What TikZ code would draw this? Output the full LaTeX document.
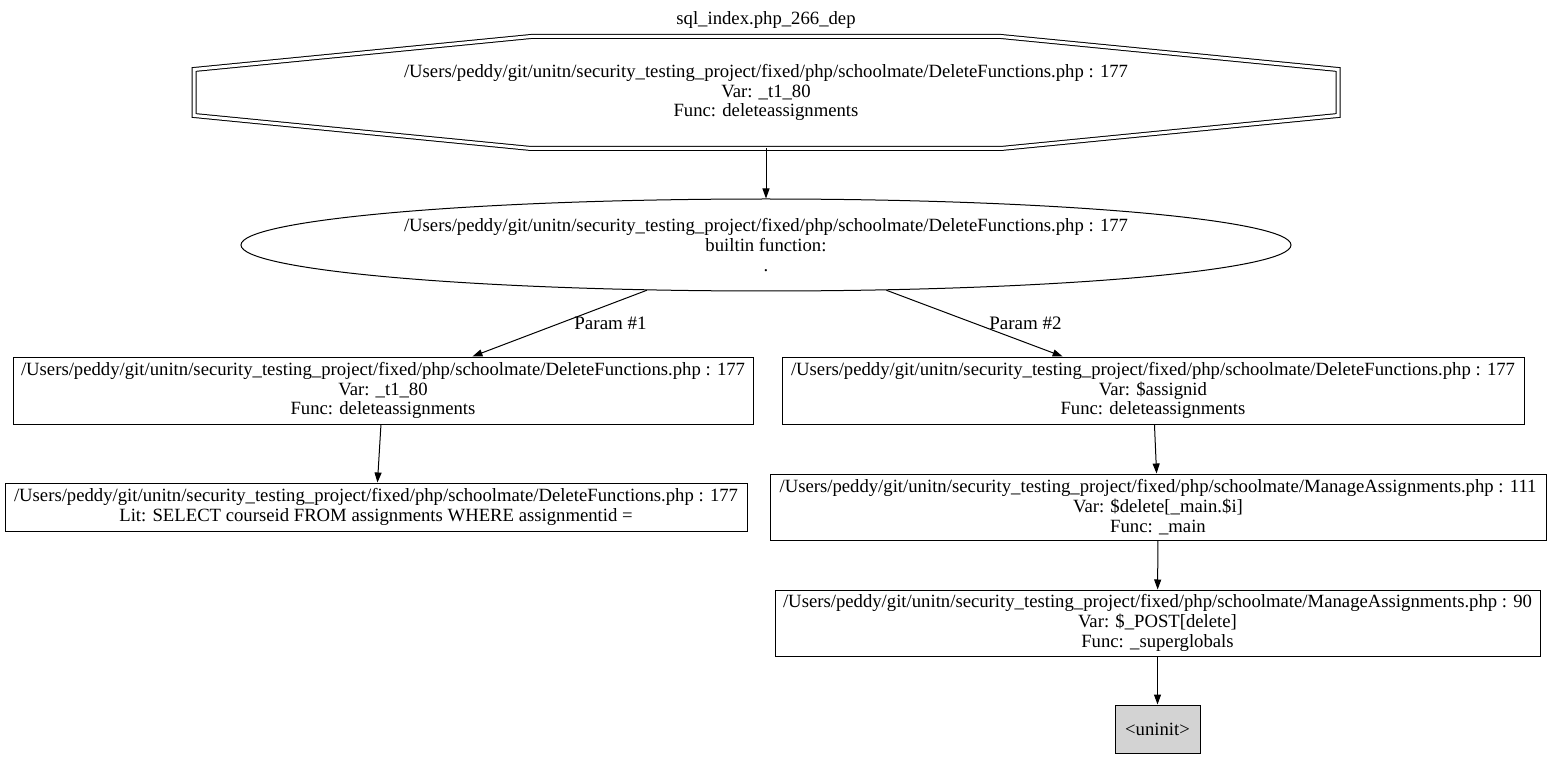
\documentclass[tikz,border=0pt]{standalone}
\usepackage{fontspec}
\setmainfont{Liberation Serif}
\usetikzlibrary{arrows.meta,calc,shapes.geometric}
\definecolor{uninitgray}{RGB}{211,211,211}

\tikzset{
  box/.style={draw, rectangle, inner sep=0pt, minimum height=67pt},
  lbl/.style={right=11pt, font=\fontsize{19}{19.6}\selectfont}
}

\begin{document}
\begin{tikzpicture}[x=1pt,y=-1pt, line width=1pt,
  every node/.style={font=\fontsize{18.7}{19.8}\selectfont, align=center},
  >={Triangle[length=10pt,width=7pt]}]
  \useasboundingbox (0,0) rectangle (1550,759);
  \node (title) at (766,20) {sql\_index.php\_266\_dep};
  \node[minimum width=1143pt, minimum height=111pt, inner sep=0pt] (src) at (766,92.5)
    {/Users/peddy/git/unitn/security\_testing\_project/fixed/php/schoolmate/DeleteFunctions.php : 177\\Var: \_t1\_80\\Func: deleteassignments};
  \draw[double, double distance=3pt]
    ($(src.north)+(-235,0)$) -- ($(src.north)+(235,0)$) -- ($(src.east)+(0,-23)$) -- ($(src.east)+(0,23)$)
    -- ($(src.south)+(235,0)$) -- ($(src.south)+(-235,0)$) -- ($(src.west)+(0,23)$) -- ($(src.west)+(0,-23)$) -- cycle;
  \node[draw, ellipse, minimum width=1050pt, minimum height=92pt, inner sep=0pt] (blt) at (766,245)
    {/Users/peddy/git/unitn/security\_testing\_project/fixed/php/schoolmate/DeleteFunctions.php : 177\\builtin function:\\.};
  \node[box, minimum width=740pt] (p1) at (383,390.5)
    {/Users/peddy/git/unitn/security\_testing\_project/fixed/php/schoolmate/DeleteFunctions.php : 177\\Var: \_t1\_80\\Func: deleteassignments};
  \node[box, minimum width=742pt, minimum height=48pt] (lit) at (376,507)
    {/Users/peddy/git/unitn/security\_testing\_project/fixed/php/schoolmate/DeleteFunctions.php : 177\\Lit: SELECT courseid FROM assignments WHERE assignmentid =};
  \node[box, minimum width=742pt] (p2) at (1153,390.5)
    {/Users/peddy/git/unitn/security\_testing\_project/fixed/php/schoolmate/DeleteFunctions.php : 177\\Var: \$assignid\\Func: deleteassignments};
  \node[box, minimum width=776pt, minimum height=66pt] (del) at (1158,507)
    {/Users/peddy/git/unitn/security\_testing\_project/fixed/php/schoolmate/ManageAssignments.php : 111\\Var: \$delete[\_main.\$i]\\Func: \_main};
  \node[box, minimum width=765pt, minimum height=66pt] (post) at (1157.5,623)
    {/Users/peddy/git/unitn/security\_testing\_project/fixed/php/schoolmate/ManageAssignments.php : 90\\Var: \$\_POST[delete]\\Func: \_superglobals};
  \node[box, fill=uninitgray, minimum width=85pt, minimum height=48pt] (un) at (1157.5,729) {<uninit>};
  \path[->]
    (src) edge (blt)
    (blt) edge node [lbl] {Param \#1} (p1)
    (blt) edge node [lbl] {Param \#2} (p2)
    (p1) edge (lit)
    (p2) edge (del)
    (del) edge (post)
    (post) edge (un);
\end{tikzpicture}
\end{document}
